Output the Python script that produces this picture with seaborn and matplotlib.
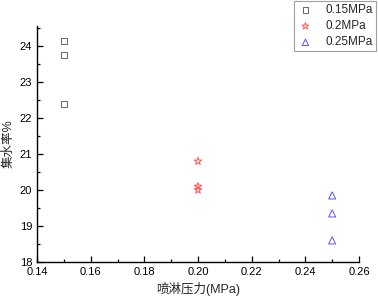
import matplotlib
matplotlib.use("Agg")
import matplotlib.pyplot as plt
import seaborn as sns
import pandas as pd
from matplotlib.ticker import MultipleLocator

pressure_labels = ["0.15MPa", "0.2MPa", "0.25MPa"]
pressure = [0.15, 0.15, 0.15, 0.20, 0.20, 0.20, 0.25, 0.25, 0.25]
water_rate = [24.15, 23.75, 22.4, 20.8, 20.1, 20.0, 19.85, 19.35, 18.6]
group = ["0.15MPa"] * 3 + ["0.2MPa"] * 3 + ["0.25MPa"] * 3

df = pd.DataFrame({"x": pressure, "y": water_rate, "g": group})

sns.set_style("ticks")
plt.rcParams["font.family"] = ["Liberation Sans", "Noto Sans CJK SC", "DejaVu Sans"]

fig = plt.figure(figsize=(3.78, 2.98), dpi=100)
ax = fig.add_axes([37 / 378, 36 / 298, 322 / 378, 236 / 298])

colors = {"0.15MPa": "#666666", "0.2MPa": "#ff5555", "0.25MPa": "#5555ff"}
markers = {"0.15MPa": "s", "0.2MPa": "*", "0.25MPa": "^"}
sizes = {"0.15MPa": 20, "0.2MPa": 32, "0.25MPa": 26}
for lab in pressure_labels:
    d = df[df.g == lab]
    ax.scatter(d.x, d.y, marker=markers[lab], s=sizes[lab], facecolors="none",
               edgecolors=colors[lab], linewidths=0.7, label=lab)

ax.set_xlim(0.14, 0.26)
ax.set_ylim(18, 24.56)
ax.xaxis.set_major_locator(MultipleLocator(0.02))
ax.xaxis.set_minor_locator(MultipleLocator(0.01))
ax.yaxis.set_major_locator(MultipleLocator(1))
ax.yaxis.set_minor_locator(MultipleLocator(0.5))
ax.xaxis.set_major_formatter(plt.FuncFormatter(lambda v, p: f"{v:.2f}"))
ax.tick_params(which="both", direction="in", labelsize=8, width=0.9, colors="black")
ax.tick_params(which="major", length=4)
ax.tick_params(which="minor", length=2)
sns.despine(ax=ax)
for s in ["left", "bottom"]:
    ax.spines[s].set_color("black")
    ax.spines[s].set_linewidth(1.0)

ax.set_xlabel("喷淋压力(MPa)", fontsize=9, labelpad=4)
ax.set_ylabel("集水率%", fontsize=9, labelpad=4)

leg = fig.legend(loc="upper right", bbox_to_anchor=(377 / 378, 1.0), fontsize=8.5,
                 frameon=True, fancybox=False, edgecolor="#888888",
                 handletextpad=1.0, borderpad=0.25, borderaxespad=0.1,
                 labelspacing=0.35, handlelength=1.4, markerscale=0.9)
leg.get_frame().set_linewidth(0.8)

fig.savefig("out.png", dpi=100)
